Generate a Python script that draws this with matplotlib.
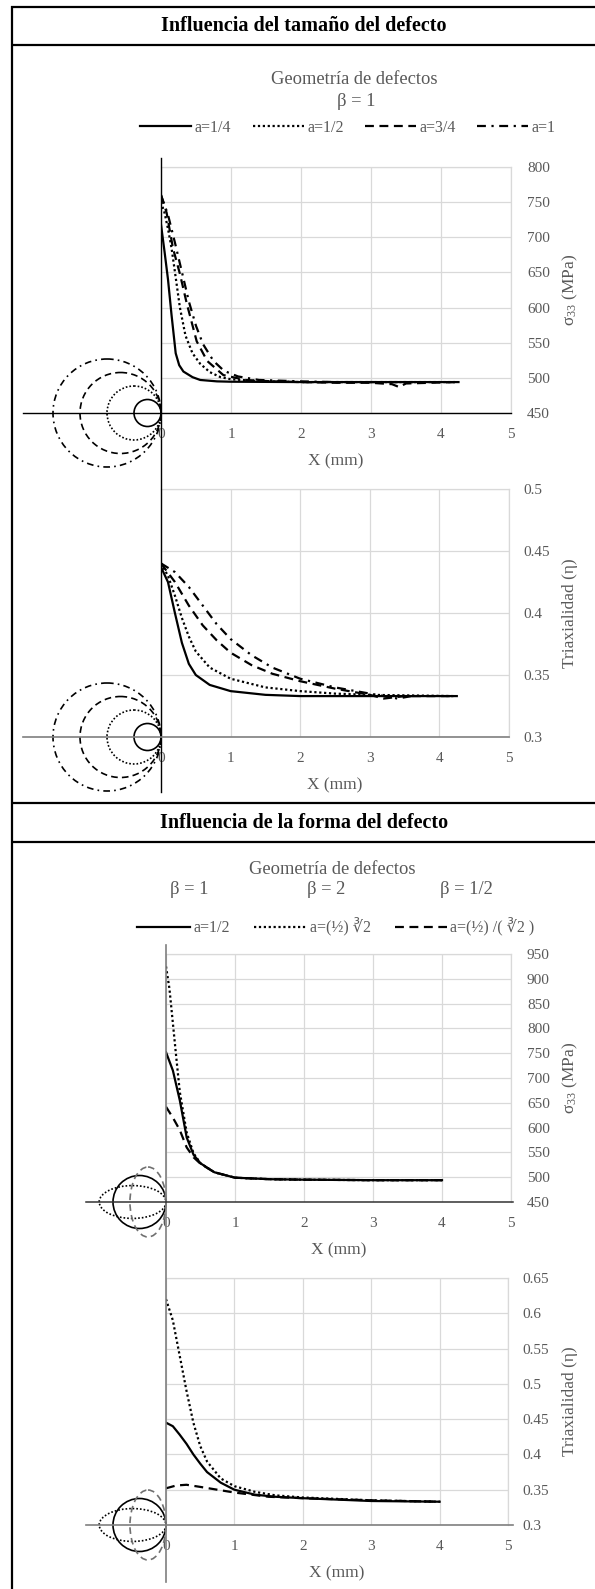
import matplotlib
matplotlib.use('Agg')
import matplotlib.pyplot as plt
from matplotlib.patches import Ellipse

plt.rcParams['font.family'] = ['Liberation Serif', 'DejaVu Sans']
plt.rcParams['mathtext.fontset'] = 'custom'
plt.rcParams['mathtext.rm'] = 'Liberation Serif'
plt.rcParams['mathtext.it'] = 'Liberation Serif:italic'

# ---------------- data ----------------
# Section 1: influence of defect size (beta = 1)
size_labels = ['a=1/4', 'a=1/2', 'a=3/4', 'a=1']
size_a = [0.25, 0.5, 0.75, 1.0]

s33_x_a14 = [0, 0.05, 0.1, 0.15, 0.21, 0.26, 0.32, 0.45, 0.56, 0.8, 1.0, 2.0, 3.0, 4.25]
s33_y_a14 = [718, 680, 640, 590, 535, 518, 509, 501, 497, 495, 494.5, 494, 494, 494]
s33_x_a12 = [0, 0.05, 0.1, 0.15, 0.2, 0.27, 0.35, 0.45, 0.56, 0.7, 0.85, 1.0, 1.3, 2.0, 3.0, 4.2]
s33_y_a12 = [750, 735, 712, 685, 650, 600, 560, 535, 520, 508, 501, 498, 496, 494, 494, 494]
s33_x_a34 = [0, 0.08, 0.17, 0.27, 0.37, 0.51, 0.66, 0.89, 1.2, 1.6, 2.0, 2.5, 3.0, 3.3, 3.4, 3.5, 4.2]
s33_y_a34 = [760, 735, 685, 648, 605, 552, 524, 504, 497, 495, 494, 493, 493, 491, 487, 492, 494]
s33_x_a1 = [0, 0.1, 0.2, 0.3, 0.4, 0.5, 0.6, 0.75, 0.9, 1.1, 1.4, 2.0, 2.5, 3.0, 3.6]
s33_y_a1 = [760, 732, 692, 650, 608, 574, 548, 524, 510, 502, 497, 495, 494, 494, 494]

tri_x_a14 = [0, 0.1, 0.2, 0.3, 0.4, 0.5, 0.7, 1.0, 1.5, 2.0, 4.25]
tri_y_a14 = [0.437, 0.425, 0.400, 0.376, 0.359, 0.350, 0.342, 0.337, 0.334, 0.333, 0.333]
tri_x_a12 = [0, 0.1, 0.2, 0.3, 0.4, 0.5, 0.7, 1.0, 1.5, 2.0, 2.5, 3.0, 4.2]
tri_y_a12 = [0.440, 0.430, 0.414, 0.396, 0.381, 0.369, 0.356, 0.347, 0.340, 0.337, 0.335, 0.334, 0.333]
tri_x_a34 = [0, 0.2, 0.4, 0.6, 0.8, 1.0, 1.3, 1.6, 2.0, 2.5, 3.0, 3.2, 3.5, 4.2]
tri_y_a34 = [0.440, 0.425, 0.406, 0.390, 0.378, 0.368, 0.358, 0.351, 0.345, 0.339, 0.334, 0.331, 0.333, 0.333]
tri_x_a1 = [0, 0.2, 0.4, 0.6, 0.8, 1.0, 1.3, 1.6, 2.0, 2.5, 3.0, 3.4, 3.6]
tri_y_a1 = [0.440, 0.433, 0.421, 0.406, 0.391, 0.379, 0.366, 0.356, 0.347, 0.340, 0.335, 0.331, 0.333]

# Section 2: influence of defect shape
shape_betas = ['β = 1', 'β = 2', 'β = 1/2']
shape_labels = ['a=1/2', 'a=(½) ∛2', 'a=(½) /( ∛2 )']
shape_semi_x = [0.5, 0.63, 0.34]   # schematic semi-axes (horizontal)
shape_semi_y = [0.5, 0.31, 0.66]   # schematic semi-axes (vertical)

s33_x_b1 = [0, 0.1, 0.2, 0.3, 0.4, 0.5, 0.7, 1.0, 1.5, 2.0, 3.0, 4.0]
s33_y_b1 = [752, 715, 655, 580, 545, 528, 510, 499, 496, 495, 494, 494]
s33_x_b2 = [0, 0.05, 0.1, 0.15, 0.2, 0.3, 0.4, 0.5, 0.7, 1.0, 1.5, 2.0, 3.0, 4.0]
s33_y_b2 = [925, 880, 810, 740, 672, 590, 548, 528, 510, 499, 496, 495, 494, 494]
s33_x_bh = [0, 0.1, 0.2, 0.3, 0.4, 0.5, 0.7, 1.0, 1.5, 2.0, 3.0, 4.0]
s33_y_bh = [642, 620, 595, 560, 540, 527, 510, 499, 496, 495, 494, 494]

tri_x_b1 = [0, 0.1, 0.2, 0.3, 0.4, 0.5, 0.6, 0.8, 1.0, 1.3, 1.6, 2.0, 3.0, 4.0]
tri_y_b1 = [0.445, 0.440, 0.428, 0.415, 0.400, 0.387, 0.375, 0.360, 0.350, 0.343, 0.340, 0.338, 0.334, 0.333]
tri_x_b2 = [0, 0.1, 0.2, 0.3, 0.4, 0.5, 0.6, 0.8, 1.0, 1.3, 1.6, 2.0, 3.0, 4.0]
tri_y_b2 = [0.620, 0.590, 0.540, 0.490, 0.445, 0.412, 0.390, 0.366, 0.355, 0.347, 0.342, 0.339, 0.335, 0.333]
tri_x_bh = [0, 0.15, 0.3, 0.5, 0.75, 1.0, 1.5, 2.0, 3.0, 4.0]
tri_y_bh = [0.352, 0.356, 0.357, 0.354, 0.350, 0.346, 0.340, 0.338, 0.335, 0.333]

x_ticks = [0, 1, 2, 3, 4, 5]
s33_ticks_1 = [450, 500, 550, 600, 650, 700, 750, 800]
tri_ticks_1 = [0.3, 0.35, 0.4, 0.45, 0.5]
s33_ticks_2 = [450, 500, 550, 600, 650, 700, 750, 800, 850, 900, 950]
tri_ticks_2 = [0.3, 0.35, 0.4, 0.45, 0.5, 0.55, 0.6, 0.65]

# ---------------- layout helpers ----------------
W, H = 595, 1589
fig = plt.figure(figsize=(W / 100, H / 100), dpi=100)
GRAY = '#595959'
GRID = '#d9d9d9'


def rect(x0, y0, x1, y1):
    return [x0 / W, 1 - y1 / H, (x1 - x0) / W, (y1 - y0) / H]


styles = [
    dict(ls='-'),
    dict(ls=(0, (1, 1.2))),
    dict(ls=(0, (4, 2.5))),
    dict(ls=(0, (4, 2.5, 1, 2.5))),
]
shape_styles = [styles[0], styles[1], styles[2]]


def fmt(v):
    return '%g' % v


def setup(ax, yticks, ylabel, pad_r):
    ax.set_xlim(0, 5)
    ax.set_ylim(yticks[0], yticks[-1])
    ax.set_xticks(x_ticks)
    ax.set_yticks(yticks)
    ax.set_yticklabels([fmt(v) for v in yticks])
    ax.yaxis.tick_right()
    ax.tick_params(axis='both', length=0, labelsize=11, colors=GRAY)
    ax.tick_params(axis='x', pad=11)
    ax.tick_params(axis='y', pad=pad_r)
    ax.grid(True, color=GRID, lw=0.9)
    ax.set_axisbelow(True)
    for s in ['left', 'bottom']:
        ax.spines[s].set_visible(False)
    for s in ['top', 'right']:
        ax.spines[s].set_color(GRID)
        ax.spines[s].set_linewidth(0.9)
    ax.set_xlabel('X (mm)', fontsize=12.5, color=GRAY)
    ax.xaxis.set_label_coords(0.5, -48 / (ax.get_position().height * H))
    ax.xaxis.label.set_va('center')
    ax.yaxis.set_label_position('right')
    ax.set_ylabel(ylabel, fontsize=12.5, color=GRAY, rotation=90, va='center', ha='center')
    x_lab = (570 - ax.get_position().x0 * W) / (ax.get_position().width * W)
    ax.yaxis.set_label_coords(x_lab, 0.5)


s33_label = 'σ$_{33}$ (MPa)'
tri_label = 'Triaxialidad (η)'

ax1 = fig.add_axes(rect(161, 167, 511, 413))
ax2 = fig.add_axes(rect(161, 489, 509, 737))
ax3 = fig.add_axes(rect(166, 954, 511, 1202))
ax4 = fig.add_axes(rect(166, 1278, 508, 1525))

setup(ax1, s33_ticks_1, s33_label, 11.5)
setup(ax2, tri_ticks_1, tri_label, 10.5)
setup(ax3, s33_ticks_2, s33_label, 11.5)
setup(ax4, tri_ticks_2, tri_label, 10.5)

LW = 1.6
size_s33 = [(s33_x_a14, s33_y_a14), (s33_x_a12, s33_y_a12), (s33_x_a34, s33_y_a34), (s33_x_a1, s33_y_a1)]
size_tri = [(tri_x_a14, tri_y_a14), (tri_x_a12, tri_y_a12), (tri_x_a34, tri_y_a34), (tri_x_a1, tri_y_a1)]
shape_s33 = [(s33_x_b1, s33_y_b1), (s33_x_b2, s33_y_b2), (s33_x_bh, s33_y_bh)]
shape_tri = [(tri_x_b1, tri_y_b1), (tri_x_b2, tri_y_b2), (tri_x_bh, tri_y_bh)]

h1 = []
for (xs, ys), st, lab in zip(size_s33, styles, size_labels):
    ln, = ax1.plot(xs, ys, color='black', lw=LW, label=lab, **st)
    h1.append(ln)
for (xs, ys), st in zip(size_tri, styles):
    ax2.plot(xs, ys, color='black', lw=LW, **st)
h3 = []
for (xs, ys), st, lab in zip(shape_s33, shape_styles, shape_labels):
    ln, = ax3.plot(xs, ys, color='black', lw=LW, label=lab, **st)
    h3.append(ln)
for (xs, ys), st in zip(shape_tri, shape_styles):
    ax4.plot(xs, ys, color='black', lw=LW, **st)

ax1.legend(handles=h1, loc='center', bbox_to_anchor=(348 / W, 1 - 128 / H),
           bbox_transform=fig.transFigure, ncol=4, frameon=False, fontsize=11.5,
           handlelength=3.2, handletextpad=0.2, columnspacing=1.35, labelcolor=GRAY,
           borderpad=0, borderaxespad=0)
ax3.legend(handles=h3, loc='center', bbox_to_anchor=(336 / W, 1 - 927 / H),
           bbox_transform=fig.transFigure, ncol=3, frameon=False, fontsize=11.5,
           handlelength=3.3, handletextpad=0.2, columnspacing=1.5, labelcolor=GRAY,
           borderpad=0, borderaxespad=0)

# ---------------- overlay (table frame, schematic defects, axis lines) ----------------
ov = fig.add_axes([0, 0, 1, 1], zorder=10)
ov.set_xlim(0, W)
ov.set_ylim(H, 0)
ov.axis('off')
ov.patch.set_alpha(0)

fig.canvas.draw()


def origin_px(ax):
    x, y = ax.transData.transform((0, ax.get_ylim()[0]))
    return x, H - y


def right_px(ax):
    x, y = ax.transData.transform((5, ax.get_ylim()[0]))
    return x


# table borders
ov.plot([12, 12], [6, H], color='black', lw=1.6, solid_capstyle='butt')
for yb in [6.5, 45, 803, 842]:
    ov.plot([11, W], [yb, yb], color='black', lw=1.6, solid_capstyle='butt')

ov.text(304, 26, 'Influencia del tamaño del defecto', ha='center', va='center',
        fontsize=14.5, fontweight='bold', color='black')
ov.text(304, 823, 'Influencia de la forma del defecto', ha='center', va='center',
        fontsize=14.5, fontweight='bold', color='black')

ov.text(354, 79, 'Geometría de defectos', ha='center', va='center', fontsize=13.3, color=GRAY)
ov.text(356, 102, 'β = 1', ha='center', va='center', fontsize=13.3, color=GRAY)
ov.text(332, 869, 'Geometría de defectos', ha='center', va='center', fontsize=13.3, color=GRAY)
for xb, bl in zip([189, 326, 466], shape_betas):
    ov.text(xb, 890, bl, ha='center', va='center', fontsize=13.3, color=GRAY)

SCALE = 54  # px per unit of a in the schematic

# section 1: long vertical axis line and horizontal axis lines
o1 = origin_px(ax1)
o2 = origin_px(ax2)
ov.plot([o1[0], o1[0]], [158, 792], color='black', lw=1.0)
ov.plot([23, right_px(ax1)], [o1[1], o1[1]], color='black', lw=1.0)
ov.plot([23, right_px(ax2)], [o2[1], o2[1]], color='#7f7f7f', lw=1.2)
for (ox, oy) in [o1, o2]:
    for a, st in zip(size_a, styles):
        r = a * SCALE
        ov.add_patch(Ellipse((ox - r, oy), 2 * r, 2 * r, fill=False, edgecolor='black',
                             lw=1.2, linestyle=st['ls']))

# section 2
o3 = origin_px(ax3)
o4 = origin_px(ax4)
ov.plot([o3[0], o3[0]], [945, 1582], color='#7f7f7f', lw=1.2)
ov.plot([86, 513], [o3[1], o3[1]], color='#333333', lw=1.1)
ov.plot([86, 513], [o4[1], o4[1]], color='#7f7f7f', lw=1.2)
shape_colors = ['black', 'black', '#707070']
for (ox, oy) in [o3, o4]:
    for sx, sy, st, c in zip(shape_semi_x, shape_semi_y, shape_styles, shape_colors):
        rx, ry = sx * 53, sy * 53
        ov.add_patch(Ellipse((ox - rx, oy), 2 * rx, 2 * ry, fill=False, edgecolor=c,
                             lw=1.2, linestyle=st['ls']))

fig.savefig('out.png', dpi=100)
